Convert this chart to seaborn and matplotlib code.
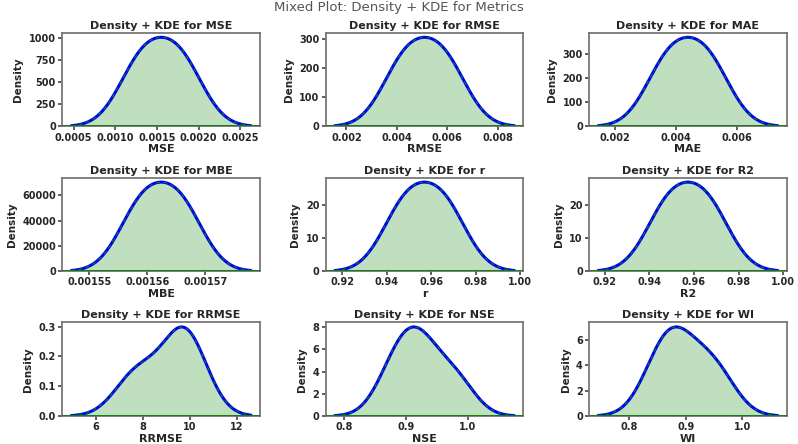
#!/usr/bin/env python3
# -*- coding: utf-8 -*-
import matplotlib
matplotlib.use("Agg")
import matplotlib.pyplot as plt
import seaborn as sns
from matplotlib.ticker import MaxNLocator

sns.set_theme(style="ticks")
plt.rcParams['font.family'] = ['DejaVu Sans']
plt.rcParams['font.weight'] = 'bold'
plt.rcParams['axes.edgecolor'] = '0.45'

# metric samples
MSE = [0.00132, 0.00178]
RMSE = [0.00434, 0.00586]
MAE = [0.00377, 0.00503]
MBE = [0.0015591, 0.0015657]
R = [0.9484, 0.9656]
R2 = [0.9487, 0.9659]
RRMSE = [7.75, 9.75, 9.8]
NSE = [0.88, 0.91, 0.93, 0.98]
WI = [0.858, 0.89, 0.95]

metric_names = ['MSE', 'RMSE', 'MAE', 'MBE', 'r', 'R2', 'RRMSE', 'NSE', 'WI']
metric_values = [MSE, RMSE, MAE, MBE, R, R2, RRMSE, NSE, WI]


def plot_metric(values, name, ax):
    # density fill + kde line (blue, with a green dashed line on top)
    sns.kdeplot(x=values, fill=True, color='green', alpha=0.25,
                linewidth=0, ax=ax)
    sns.kdeplot(x=values, color='blue', linewidth=2.2, ax=ax)
    sns.kdeplot(x=values, color='green', linewidth=0.9, linestyle=(0, (3, 3)),
                ax=ax)
    ax.axhline(0, color='green', linewidth=1.2, zorder=3)

    ax.set_title(f"Density + KDE for {name}", fontsize=8, fontweight='bold',
                 pad=3)
    ax.set_xlabel(name, fontsize=8, fontweight='bold', labelpad=1)
    ax.set_ylabel('Density', fontsize=7.5, fontweight='bold', labelpad=4)
    ax.yaxis.set_major_locator(MaxNLocator(nbins=5, steps=[1, 2, 2.5, 5, 10]))
    ax.ticklabel_format(useOffset=False)
    ax.tick_params(labelsize=7, color='0.3', length=3, pad=1.5)


if __name__ == "__main__":
    fig, axs = plt.subplots(3, 3, figsize=(7.98, 4.44), dpi=100)
    for name, vals, ax in zip(metric_names, metric_values, axs.flat):
        plot_metric(vals, name, ax)

    fig.suptitle("Mixed Plot: Density + KDE for Metrics", fontsize=9.5,
                 fontweight='normal', color='#555555', y=0.998)
    fig.subplots_adjust(left=0.078, right=0.986, top=0.926, bottom=0.063,
                        wspace=0.332, hspace=0.548)
    fig.savefig("out.png", dpi=100)
